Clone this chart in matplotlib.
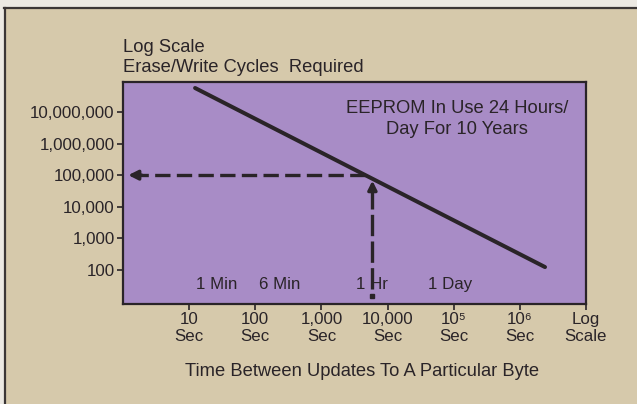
import numpy as np
import matplotlib
matplotlib.use("Agg")
import matplotlib.pyplot as plt
from matplotlib.patches import Rectangle
from matplotlib.lines import Line2D

plt.rcParams['font.family'] = ['Liberation Sans', 'DejaVu Sans']

# erase/write cycles vs. time between updates (log-log)
line_x = [12.3, 2.4e6]
line_y = [5.75e7, 123]

y_ticks = [1e2, 1e3, 1e4, 1e5, 1e6, 1e7]
y_labels = ['100', '1,000', '10,000', '100,000', '1,000,000', '10,000,000']
x_ticks = [1e1, 1e2, 1e3, 1e4, 1e5, 1e6, 1e7]
x_labels = ['10\nSec', '100\nSec', '1,000\nSec', '10,000\nSec',
            '10\u2075\nSec', '10\u2076\nSec', 'Log\nScale']

# time markers written inside the plot
marker_names = ['1 Min', '6 Min', '1 Hr', '1 Day']
marker_x = [26, 235, 5800, 87000]
marker_y = 34

# worked example: 100,000 cycles -> about one update per hour
cycles_needed = 1e5
hour_x = 5900
dash_start_x = 1.2
dash_bottom_y = 15

ink = '#2a2428'
beige = '#d6c9ab'
purple = '#a88cc6'
fs_tick = 12.2
fs_text = 13.2

fig = plt.figure(figsize=(6.37, 4.04), dpi=100, facecolor=beige)
ax = fig.add_axes([123/637, 100/404, 463/637, 222/404])
ax.set_facecolor(purple)
ax.set_xscale('log')
ax.set_yscale('log')
ax.set_xlim(1, 1e7)
ax.set_ylim(10**0.92, 10**7.95)

ax.plot(line_x, line_y, color=ink, lw=2.9, solid_capstyle='round', zorder=4)

# where the sloped line reaches the chosen values (straight in log-log)
lx, ly = np.log10(line_x), np.log10(line_y)
slope = (ly[1] - ly[0]) / (lx[1] - lx[0])
cross_x = 10 ** (lx[0] + (np.log10(cycles_needed) - ly[0]) / slope)
cross_y = 10 ** (ly[0] + (np.log10(hour_x) - lx[0]) * slope)

ax.plot([cross_x, dash_start_x * 1.5], [cycles_needed, cycles_needed],
        color=ink, lw=2.4, linestyle=(0, (4.6, 1.9)), zorder=3)
ax.annotate('', xy=(dash_start_x, cycles_needed),
            xytext=(dash_start_x * 1.6, cycles_needed),
            arrowprops=dict(arrowstyle='-|>', color=ink, lw=2.4,
                            mutation_scale=14, shrinkA=0, shrinkB=0))
ax.plot([hour_x, hour_x], [dash_bottom_y * 1.7, cross_y / 1.9],
        color=ink, lw=2.4, linestyle=(0, (6.4, 1.6)), zorder=3)
ax.plot([hour_x], [dash_bottom_y], marker='s', ms=3.2, color=ink, zorder=3)
ax.annotate('', xy=(hour_x, cross_y / 1.15), xytext=(hour_x, cross_y / 2.0),
            arrowprops=dict(arrowstyle='-|>', color=ink, lw=2.4,
                            mutation_scale=13, shrinkA=0, shrinkB=0))

for name, mx in zip(marker_names, marker_x):
    ax.text(mx, marker_y, name, color=ink, fontsize=fs_tick,
            ha='center', va='center', zorder=5)

ax.text(10 ** 5.05, 10 ** 6.78, 'EEPROM In Use 24 Hours/\nDay For 10 Years',
        color=ink, fontsize=fs_text, ha='center', va='center', linespacing=1.25)

ax.set_yticks(y_ticks)
ax.set_yticklabels(y_labels)
ax.set_xticks(x_ticks)
ax.set_xticklabels(x_labels, linespacing=1.15)
ax.minorticks_off()
ax.tick_params(direction='out', length=4, width=1.2, color=ink,
               labelcolor=ink, labelsize=fs_tick, pad=2)
for sp in ax.spines.values():
    sp.set_color(ink)
    sp.set_linewidth(1.6)

fig.text(123/637, 1 - 48/404, 'Log Scale', color=ink, fontsize=fs_text,
         ha='left', va='center')
fig.text(123/637, 1 - 67/404, 'Erase/Write Cycles  Required', color=ink,
         fontsize=fs_text, ha='left', va='center')
fig.text(362/637, 1 - 371/404, 'Time Between Updates To A Particular Byte',
         color=ink, fontsize=fs_text, ha='center', va='center')

# page margin and frame rule on the top and left edges
fig.patches.append(Rectangle((0, 1 - 7/404), 1, 7/404, transform=fig.transFigure,
                             facecolor='#ece9e3', edgecolor='none', zorder=0))
fig.patches.append(Rectangle((0, 0), 4/637, 1, transform=fig.transFigure,
                             facecolor='#ece9e3', edgecolor='none', zorder=0))
fig.lines.append(Line2D([4/637, 1], [1 - 8/404, 1 - 8/404], transform=fig.transFigure,
                        color='#3b3636', lw=1.6))
fig.lines.append(Line2D([5/637, 5/637], [0, 1 - 8/404], transform=fig.transFigure,
                        color='#3b3636', lw=1.6))

fig.savefig('out.png', dpi=100, facecolor=beige)
